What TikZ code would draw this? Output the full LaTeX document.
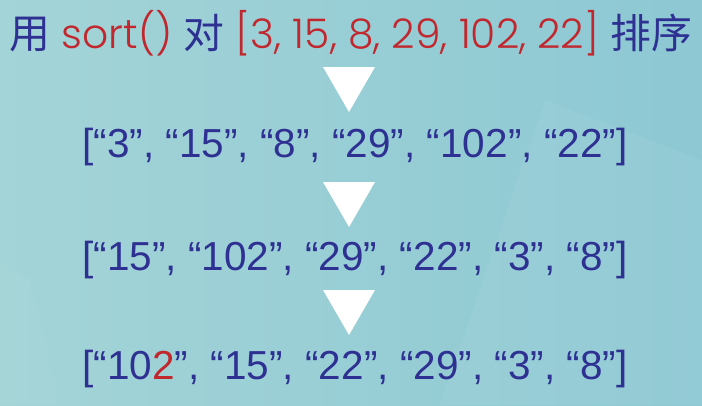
\documentclass[tikz,border=0pt]{standalone}
\usepackage{fontspec}
\setmainfont{Liberation Sans}
\newfontfamily\cjk{Noto Sans CJK SC}
\newfontfamily\geo{Poppins Light}
\usetikzlibrary{positioning, shapes.geometric}
\definecolor{listblue}{HTML}{2E3192}
\definecolor{listred}{HTML}{C1272D}
\definecolor{bgleft}{HTML}{A3D4D7}
\definecolor{bgright}{HTML}{8DC8D3}

\begin{document}
\begin{tikzpicture}[x=1pt,y=-1pt]
  \tikzstyle{row}=[anchor=base, inner sep=0pt, text=listblue,
    font=\fontsize{40.5}{40.5}\selectfont]
  \tikzstyle{downtri}=[regular polygon, regular polygon sides=3,
    shape border rotate=180, fill=white, inner sep=0pt, minimum size=60pt]

  % background
  \shade[left color=bgleft, right color=bgright] (0,0) rectangle (702,405);
  \fill[white, opacity=0.05] (545,100) -- (702,160) -- (702,405) -- (440,405) -- cycle;
  \fill[white, opacity=0.04] (0,263) -- (30,280) -- (60,405) -- (0,405) -- cycle;
  \useasboundingbox (0,0) rectangle (702,405);

  \node[row, font=\fontsize{40.8}{40.8}\selectfont] (title) at (351,48)
    {{\cjk 用} \textcolor{listred}{\geo sort()} {\cjk 对}
     \textcolor{listred}{\geo [3, 15, 8, 29, 102, 22]} {\cjk 排序}};
  \node[row] (before) at (355,157) {[“3”, “15”, “8”, “29”, “102”, “22”]};
  \node[row] (asstr)  at (355,270) {[“15”, “102”, “29”, “22”, “3”, “8”]};
  \node[row] (after)  at (355,379) {[“10\textcolor{listred}{2}”, “15”, “22”, “29”, “3”, “8”]};

  \node[downtri] (tri1) at (349,82)  {};
  \node[downtri] (tri2) at (349,197) {};
  \node[downtri] (tri3) at (349,305) {};
\end{tikzpicture}
\end{document}
